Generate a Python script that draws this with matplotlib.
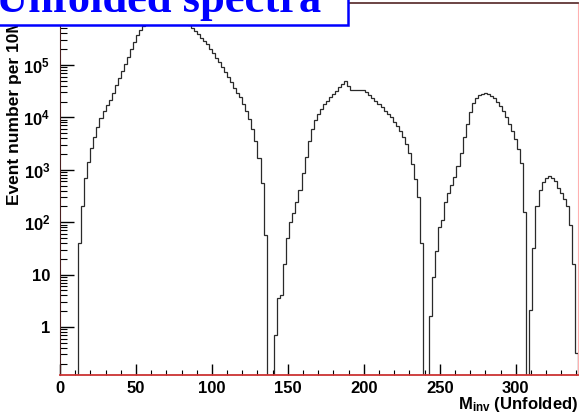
import matplotlib
matplotlib.use("Agg")
import matplotlib.pyplot as plt
import numpy as np
from matplotlib.patches import Rectangle
from matplotlib.ticker import FixedLocator, FixedFormatter, MultipleLocator, LogLocator, NullFormatter

# histogram: 2-unit bins, contents as log10(events)
bin_width = 2
peak_starts = [12, 141, 243, 309]
peak1_log10 = [1.6, 2.3, 2.85, 3.15, 3.42, 3.63, 3.82, 3.99, 4.12, 4.23,
               4.34, 4.47, 4.61, 4.75, 4.88, 5.02, 5.16, 5.30, 5.44, 5.57,
               5.66, 5.74, 5.80, 5.86, 5.91, 5.95, 5.98, 6.00, 6.01, 6.01,
               6.00, 5.98, 5.94, 5.90, 5.85, 5.80, 5.76, 5.71, 5.65, 5.59,
               5.52, 5.46, 5.39, 5.31, 5.23, 5.14, 5.06, 4.97, 4.87, 4.77,
               4.67, 4.56, 4.47, 4.38, 4.26, 4.13, 3.96, 3.77, 3.55, 3.22,
               2.75, 1.75]
peak2_log10 = [-0.15, 0.55, 0.6, 1.21, 1.7, 2.0, 2.18, 2.38, 2.62, 2.93,
               3.25, 3.55, 3.78, 3.95, 4.07, 4.16, 4.25, 4.32, 4.38, 4.45,
               4.51, 4.57, 4.64, 4.70, 4.60, 4.53, 4.52, 4.53, 4.53, 4.52,
               4.48, 4.43, 4.37, 4.31, 4.25, 4.19, 4.13, 4.07, 4.00, 3.92,
               3.84, 3.74, 3.63, 3.49, 3.31, 3.10, 2.82, 2.48, 1.6]
peak3_log10 = [0.2, 0.96, 1.45, 1.9, 2.05, 2.38, 2.55, 2.7, 2.87, 3.08,
               3.32, 3.62, 3.88, 4.1, 4.27, 4.36, 4.42, 4.45, 4.46, 4.44,
               4.41, 4.36, 4.30, 4.22, 4.12, 4.01, 3.88, 3.74, 3.59, 3.40,
               3.12, 2.2]
peak4_log10 = [0.32, 1.5, 2.3, 2.62, 2.76, 2.85, 2.88, 2.85, 2.78, 2.66,
               2.55, 2.44, 2.31, 1.95, 1.2, -0.5]
peaks = [peak1_log10, peak2_log10, peak3_log10, peak4_log10]

x_ticks = [0, 50, 100, 150, 200, 250, 300]
y_ticks = [1, 10, 100, 1000, 10000, 100000]
y_labels = ["1", "10", r"$\mathbf{10^{2}}$", r"$\mathbf{10^{3}}$",
            r"$\mathbf{10^{4}}$", r"$\mathbf{10^{5}}$"]

sans = "Liberation Sans"
plt.rcParams["font.family"] = sans
plt.rcParams["font.weight"] = "bold"
plt.rcParams["mathtext.fontset"] = "custom"
plt.rcParams["mathtext.bf"] = sans + ":bold"
plt.rcParams["mathtext.rm"] = sans + ":bold"
plt.rcParams["mathtext.it"] = sans + ":bold"

fig = plt.figure(figsize=(5.79, 4.16), dpi=100)
ax = fig.add_axes([60 / 579, 41 / 416, 518 / 579, 372 / 416])

for start, vals in zip(peak_starts, peaks):
    counts = 10.0 ** np.array(vals)
    edges = start + bin_width * np.arange(len(vals) + 1)
    ax.stairs(counts, edges, baseline=0.01, color="#2a2a2a", lw=0.9)

ax.set_yscale("log")
ax.set_xlim(0, 341)
ax.set_ylim(0.121, 1.52e6)

ax.xaxis.set_major_locator(FixedLocator(x_ticks))
ax.xaxis.set_minor_locator(MultipleLocator(10))
ax.yaxis.set_major_locator(FixedLocator(y_ticks))
ax.yaxis.set_major_formatter(FixedFormatter(y_labels))
ax.yaxis.set_minor_locator(LogLocator(base=10, subs=np.arange(2, 10)))
ax.yaxis.set_minor_formatter(NullFormatter())

ax.tick_params(axis="x", which="major", direction="in", length=7.7, width=1,
               labelsize=12, pad=4, top=False)
ax.tick_params(axis="x", which="minor", direction="in", length=3.6, width=0.8, top=False)
ax.tick_params(axis="y", which="major", direction="in", length=10, width=1,
               labelsize=12, pad=7, right=False)
ax.tick_params(axis="y", which="minor", direction="in", length=5, width=0.8, right=False)

ax.spines["bottom"].set_color("#cc3333")
ax.spines["bottom"].set_linewidth(1.3)
ax.spines["left"].set_color("#4a2020")
ax.spines["top"].set_color("#603535")
ax.spines["top"].set_linewidth(1.3)
ax.spines["right"].set_color("#ffb0b0")

fig.text(15 / 579, (416 - 205) / 416, "Event number per 10M", rotation=90,
         ha="center", va="bottom", fontsize=12.5, fontweight="bold", zorder=1)
fig.text(578 / 579, (416 - 409) / 416, r"$\mathbf{M_{inv}}$ (Unfolded)",
         ha="right", va="baseline", fontsize=12, fontweight="bold")

box = Rectangle((-0.02, (416 - 25) / 416), 348 / 579 + 0.02, 0.1,
                transform=fig.transFigure, facecolor="white", edgecolor="#0000ff",
                lw=1.8, zorder=5)
fig.patches.append(box)
fig.text(-4 / 579, (416 - 12) / 416, "Unfolded spectra", ha="left", va="baseline",
         family="Liberation Serif", fontweight="bold", fontsize=32,
         color="#0000ff", zorder=6)

fig.savefig("out.png", dpi=100)
